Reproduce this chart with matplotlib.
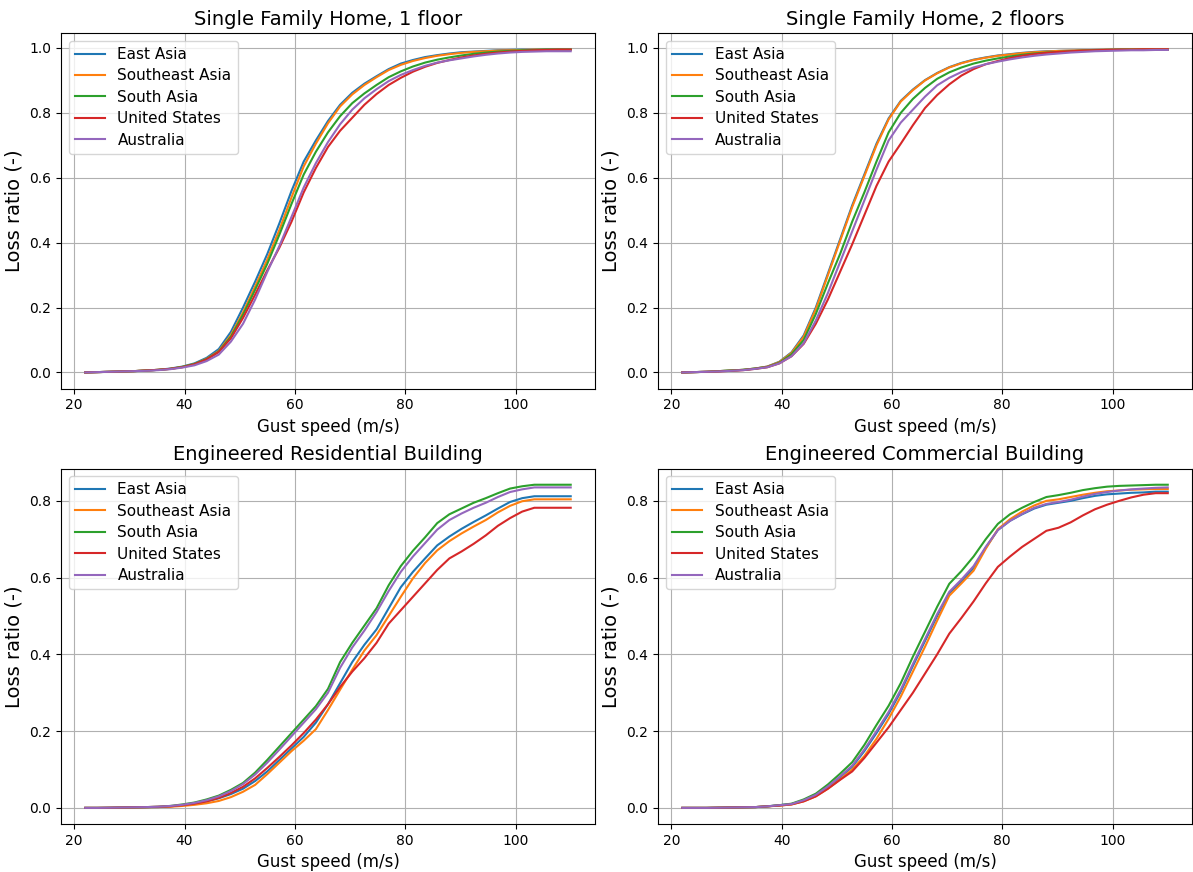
#!/usr/bin/env python3
"""Vulnerability curves: loss ratio vs. gust speed for four building types, five regions."""

import matplotlib
matplotlib.use("Agg")
import matplotlib.pyplot as plt

# Gust speed grid (m/s), 41 points from 22 to 110
GUST = [22.0, 24.2, 26.4, 28.6, 30.8, 33.0, 35.2, 37.4, 39.6, 41.8,
        44.0, 46.2, 48.4, 50.6, 52.8, 55.0, 57.2, 59.4, 61.6, 63.8,
        66.0, 68.2, 70.4, 72.6, 74.8, 77.0, 79.2, 81.4, 83.6, 85.8,
        88.0, 90.2, 92.4, 94.6, 96.8, 99.0, 101.2, 103.4, 105.6, 107.8, 110.0]

REGIONS = ["East Asia", "Southeast Asia", "South Asia", "United States", "Australia"]
COLORS = ["#1f77b4", "#ff7f0e", "#2ca02c", "#d62728", "#9467bd"]

TITLES = ["Single Family Home, 1 floor", "Single Family Home, 2 floors",
          "Engineered Residential Building", "Engineered Commercial Building"]

# --- Single Family Home, 1 floor ---
sfh1_east_asia = [0.000, 0.001, 0.002, 0.003, 0.004, 0.006, 0.008, 0.012, 0.018, 0.028,
                  0.045, 0.072, 0.125, 0.200, 0.280, 0.365, 0.460, 0.560, 0.650, 0.715,
                  0.775, 0.825, 0.862, 0.890, 0.913, 0.935, 0.952, 0.963, 0.972, 0.978,
                  0.983, 0.987, 0.989, 0.991, 0.993, 0.994, 0.995, 0.995, 0.996, 0.996, 0.996]
sfh1_southeast_asia = [0.000, 0.001, 0.002, 0.003, 0.004, 0.006, 0.008, 0.011, 0.017, 0.026,
                       0.042, 0.066, 0.115, 0.185, 0.265, 0.348, 0.440, 0.540, 0.635, 0.705,
                       0.768, 0.820, 0.857, 0.886, 0.910, 0.932, 0.948, 0.960, 0.969, 0.976,
                       0.981, 0.985, 0.988, 0.990, 0.992, 0.993, 0.994, 0.995, 0.995, 0.995, 0.995]
sfh1_south_asia = [0.000, 0.001, 0.002, 0.003, 0.004, 0.006, 0.008, 0.011, 0.017, 0.026,
                   0.041, 0.064, 0.110, 0.178, 0.255, 0.335, 0.425, 0.520, 0.610, 0.680,
                   0.740, 0.790, 0.830, 0.860, 0.886, 0.910, 0.928, 0.943, 0.955, 0.964,
                   0.971, 0.977, 0.982, 0.986, 0.989, 0.991, 0.993, 0.994, 0.995, 0.995, 0.995]
sfh1_united_states = [0.000, 0.001, 0.002, 0.003, 0.004, 0.006, 0.008, 0.011, 0.016, 0.025,
                      0.040, 0.063, 0.105, 0.168, 0.240, 0.315, 0.385, 0.465, 0.555, 0.630,
                      0.695, 0.745, 0.785, 0.825, 0.858, 0.886, 0.908, 0.927, 0.942, 0.954,
                      0.963, 0.971, 0.977, 0.982, 0.986, 0.989, 0.991, 0.993, 0.994, 0.995, 0.995]
sfh1_australia = [0.000, 0.001, 0.002, 0.003, 0.004, 0.005, 0.007, 0.010, 0.015, 0.022,
                  0.035, 0.055, 0.095, 0.150, 0.225, 0.310, 0.390, 0.480, 0.570, 0.645,
                  0.710, 0.765, 0.810, 0.845, 0.873, 0.898, 0.917, 0.932, 0.945, 0.955,
                  0.962, 0.968, 0.974, 0.979, 0.983, 0.986, 0.988, 0.989, 0.990, 0.990, 0.990]

# --- Single Family Home, 2 floors ---
sfh2_east_asia = [0.000, 0.001, 0.002, 0.004, 0.006, 0.008, 0.012, 0.018, 0.033, 0.062,
                  0.114, 0.200, 0.305, 0.410, 0.515, 0.610, 0.705, 0.783, 0.837, 0.872,
                  0.901, 0.923, 0.941, 0.954, 0.964, 0.971, 0.977, 0.981, 0.985, 0.988,
                  0.990, 0.991, 0.992, 0.993, 0.994, 0.995, 0.995, 0.996, 0.996, 0.996, 0.996]
sfh2_southeast_asia = [0.000, 0.001, 0.002, 0.004, 0.006, 0.008, 0.012, 0.018, 0.032, 0.060,
                       0.110, 0.195, 0.300, 0.405, 0.510, 0.605, 0.700, 0.780, 0.835, 0.870,
                       0.900, 0.922, 0.940, 0.953, 0.963, 0.970, 0.976, 0.980, 0.984, 0.987,
                       0.989, 0.991, 0.992, 0.993, 0.994, 0.995, 0.995, 0.996, 0.996, 0.996, 0.996]
sfh2_south_asia = [0.000, 0.001, 0.002, 0.004, 0.006, 0.008, 0.012, 0.017, 0.030, 0.056,
                   0.100, 0.180, 0.275, 0.365, 0.465, 0.555, 0.650, 0.740, 0.800, 0.843,
                   0.877, 0.905, 0.925, 0.940, 0.952, 0.961, 0.968, 0.974, 0.979, 0.983,
                   0.986, 0.988, 0.990, 0.992, 0.993, 0.994, 0.995, 0.995, 0.995, 0.995, 0.995]
sfh2_united_states = [0.000, 0.001, 0.002, 0.003, 0.005, 0.007, 0.011, 0.016, 0.028, 0.050,
                      0.088, 0.150, 0.225, 0.310, 0.395, 0.485, 0.575, 0.650, 0.705, 0.762,
                      0.815, 0.855, 0.888, 0.915, 0.935, 0.950, 0.960, 0.969, 0.976, 0.981,
                      0.985, 0.988, 0.990, 0.992, 0.993, 0.994, 0.995, 0.995, 0.996, 0.996, 0.996]
sfh2_australia = [0.000, 0.001, 0.002, 0.003, 0.005, 0.007, 0.011, 0.016, 0.028, 0.050,
                  0.090, 0.160, 0.245, 0.340, 0.435, 0.530, 0.625, 0.715, 0.770, 0.810,
                  0.850, 0.885, 0.908, 0.926, 0.940, 0.950, 0.958, 0.965, 0.971, 0.976,
                  0.980, 0.983, 0.986, 0.988, 0.990, 0.991, 0.992, 0.993, 0.993, 0.994, 0.994]

# --- Engineered Residential Building ---
res_east_asia = [0.000, 0.000, 0.000, 0.0005, 0.001, 0.0015, 0.002, 0.004, 0.007, 0.011,
                 0.017, 0.025, 0.036, 0.050, 0.070, 0.095, 0.125, 0.155, 0.185, 0.222,
                 0.270, 0.325, 0.380, 0.425, 0.465, 0.520, 0.575, 0.615, 0.650, 0.684,
                 0.707, 0.727, 0.745, 0.762, 0.780, 0.797, 0.807, 0.812, 0.812, 0.812, 0.812]
res_southeast_asia = [0.000, 0.000, 0.000, 0.0005, 0.001, 0.0015, 0.002, 0.003, 0.005, 0.008,
                      0.012, 0.018, 0.028, 0.042, 0.060, 0.088, 0.118, 0.148, 0.175, 0.205,
                      0.255, 0.308, 0.360, 0.410, 0.450, 0.500, 0.550, 0.598, 0.638, 0.671,
                      0.695, 0.715, 0.733, 0.750, 0.770, 0.787, 0.799, 0.804, 0.804, 0.804, 0.804]
res_south_asia = [0.000, 0.000, 0.0005, 0.001, 0.0015, 0.002, 0.003, 0.005, 0.009, 0.014,
                  0.022, 0.032, 0.047, 0.065, 0.092, 0.125, 0.160, 0.195, 0.230, 0.265,
                  0.310, 0.380, 0.430, 0.475, 0.520, 0.580, 0.630, 0.670, 0.705, 0.742,
                  0.765, 0.780, 0.795, 0.807, 0.820, 0.832, 0.838, 0.842, 0.842, 0.842, 0.842]
res_united_states = [0.000, 0.000, 0.0005, 0.001, 0.0015, 0.002, 0.003, 0.004, 0.007, 0.011,
                     0.017, 0.026, 0.039, 0.055, 0.077, 0.104, 0.133, 0.163, 0.195, 0.230,
                     0.270, 0.315, 0.355, 0.390, 0.430, 0.480, 0.515, 0.550, 0.585, 0.620,
                     0.650, 0.668, 0.688, 0.710, 0.735, 0.755, 0.772, 0.782, 0.782, 0.782, 0.782]
res_australia = [0.000, 0.000, 0.0005, 0.001, 0.0015, 0.002, 0.003, 0.005, 0.008, 0.013,
                 0.020, 0.030, 0.044, 0.062, 0.087, 0.118, 0.152, 0.187, 0.222, 0.257,
                 0.300, 0.365, 0.418, 0.462, 0.510, 0.565, 0.615, 0.655, 0.690, 0.725,
                 0.750, 0.767, 0.782, 0.795, 0.810, 0.823, 0.830, 0.835, 0.835, 0.835, 0.835]

# --- Engineered Commercial Building ---
com_east_asia = [0.000, 0.000, 0.000, 0.0005, 0.001, 0.0015, 0.002, 0.004, 0.007, 0.010,
                 0.019, 0.033, 0.054, 0.080, 0.107, 0.148, 0.195, 0.245, 0.303, 0.370,
                 0.435, 0.500, 0.560, 0.590, 0.625, 0.678, 0.724, 0.748, 0.765, 0.780,
                 0.790, 0.795, 0.800, 0.807, 0.813, 0.817, 0.819, 0.821, 0.822, 0.824, 0.824]
com_southeast_asia = [0.000, 0.000, 0.000, 0.0005, 0.001, 0.0015, 0.002, 0.004, 0.006, 0.009,
                      0.017, 0.030, 0.050, 0.074, 0.100, 0.135, 0.180, 0.232, 0.290, 0.355,
                      0.420, 0.488, 0.553, 0.585, 0.618, 0.675, 0.726, 0.752, 0.772, 0.788,
                      0.800, 0.804, 0.810, 0.816, 0.821, 0.825, 0.827, 0.829, 0.830, 0.831, 0.831]
com_south_asia = [0.000, 0.000, 0.000, 0.0005, 0.001, 0.0015, 0.002, 0.004, 0.007, 0.011,
                  0.022, 0.037, 0.061, 0.089, 0.119, 0.164, 0.216, 0.266, 0.325, 0.394,
                  0.459, 0.524, 0.584, 0.617, 0.655, 0.700, 0.740, 0.765, 0.782, 0.797,
                  0.810, 0.815, 0.821, 0.828, 0.833, 0.837, 0.839, 0.840, 0.841, 0.842, 0.842]
com_united_states = [0.000, 0.000, 0.000, 0.0005, 0.001, 0.0015, 0.002, 0.004, 0.006, 0.009,
                     0.017, 0.030, 0.050, 0.073, 0.095, 0.130, 0.170, 0.210, 0.255, 0.300,
                     0.350, 0.400, 0.454, 0.495, 0.538, 0.585, 0.628, 0.655, 0.680, 0.701,
                     0.722, 0.730, 0.744, 0.762, 0.778, 0.790, 0.800, 0.809, 0.816, 0.820, 0.820]
com_australia = [0.000, 0.000, 0.000, 0.0005, 0.001, 0.0015, 0.002, 0.004, 0.007, 0.010,
                 0.020, 0.034, 0.056, 0.082, 0.110, 0.152, 0.200, 0.250, 0.308, 0.375,
                 0.440, 0.505, 0.563, 0.595, 0.630, 0.680, 0.724, 0.748, 0.766, 0.782,
                 0.792, 0.797, 0.803, 0.811, 0.818, 0.823, 0.827, 0.830, 0.832, 0.834, 0.835]

PANELS = [
    [sfh1_east_asia, sfh1_southeast_asia, sfh1_south_asia, sfh1_united_states, sfh1_australia],
    [sfh2_east_asia, sfh2_southeast_asia, sfh2_south_asia, sfh2_united_states, sfh2_australia],
    [res_east_asia, res_southeast_asia, res_south_asia, res_united_states, res_australia],
    [com_east_asia, com_southeast_asia, com_south_asia, com_united_states, com_australia],
]


def main():
    fig, axes = plt.subplots(2, 2, figsize=(11.93, 8.72), dpi=100)
    fig.subplots_adjust(left=0.0511, right=0.9992, bottom=0.055, top=0.962,
                        wspace=0.118, hspace=0.225)

    for ax, title, curves in zip(axes.flat, TITLES, PANELS):
        for label, color, vals in zip(REGIONS, COLORS, curves):
            ax.plot(GUST, vals, color=color, linewidth=1.5, label=label)
        ax.set_title(title, fontsize=14)
        ax.set_xlabel("Gust speed (m/s)", fontsize=12)
        ax.set_ylabel("Loss ratio (-)", fontsize=14)
        ax.grid(True)
        ax.legend(loc="upper left", fontsize=11, labelspacing=0.42)

    fig.savefig("out.png", dpi=100)


if __name__ == "__main__":
    main()
